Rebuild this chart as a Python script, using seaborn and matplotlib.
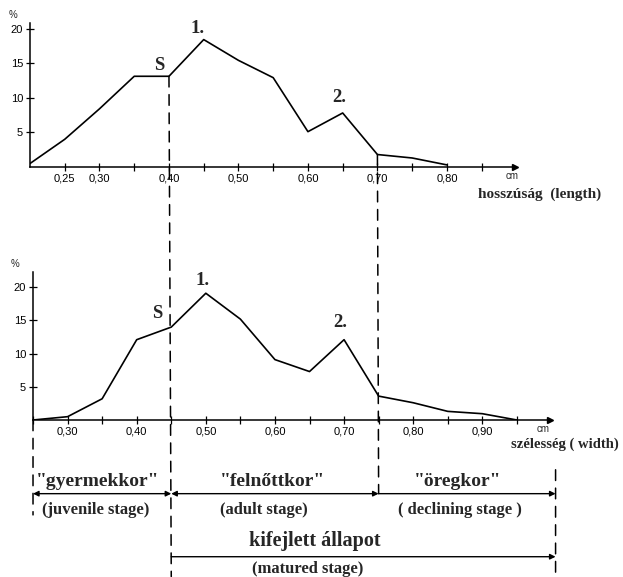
import numpy as np
import pandas as pd
import matplotlib
matplotlib.use("Agg")
import matplotlib.pyplot as plt
from matplotlib.patches import ConnectionPatch
import seaborn as sns

# ---- data ----
length_cm = [0.20, 0.25, 0.30, 0.35, 0.40, 0.45, 0.50, 0.55, 0.60, 0.65, 0.70, 0.75, 0.80]
length_pct = [0.5, 4.0, 8.4, 13.1, 13.1, 18.4, 15.4, 12.9, 5.1, 7.8, 1.8, 1.3, 0.3]
width_cm = [0.25, 0.30, 0.35, 0.40, 0.45, 0.50, 0.55, 0.60, 0.65, 0.70, 0.75, 0.80, 0.85, 0.90, 0.95]
width_pct = [0.0, 0.5, 3.2, 12.1, 14.0, 19.1, 15.2, 9.1, 7.3, 12.1, 3.6, 2.6, 1.3, 0.95, 0.0]

top_ticks = [0.25, 0.30, 0.35, 0.40, 0.45, 0.50, 0.55, 0.60, 0.65, 0.70, 0.75, 0.80, 0.85]
top_labels = ["0,25", "0,30", "", "0,40", "", "0,50", "", "0,60", "", "0,70", "", "0,80", ""]
bot_ticks = [0.25, 0.30, 0.35, 0.40, 0.45, 0.50, 0.55, 0.60, 0.65, 0.70, 0.75, 0.80, 0.85, 0.90, 0.95]
bot_labels = ["", "0,30", "", "0,40", "", "0,50", "", "0,60", "", "0,70", "", "0,80", "", "0,90", ""]
y_ticks = [5, 10, 15, 20]
y_labels = ["5", "10", "15", "20"]

stage_bounds = [0.25, 0.45, 0.75, 1.006]
stage_names = ['"gyermekkor"', '"felnőttkor"', '"öregkor"']
stage_en = ['(juvenile stage)', '(adult stage)', '( declining stage )']

sns.set_theme(style="white")
plt.rcParams['font.family'] = ['Liberation Sans', 'DejaVu Sans']

fig = plt.figure(figsize=(6.23, 5.77), dpi=100)
ax1 = fig.add_axes([0.04815, 0.7106, 0.7785, 0.2496])
ax2 = fig.add_axes([0.0530, 0.2721, 0.8299, 0.2565])

df1 = pd.DataFrame({"x": length_cm, "y": length_pct})
df2 = pd.DataFrame({"x": width_cm, "y": width_pct})
sns.lineplot(data=df1, x="x", y="y", ax=ax1, color="black", lw=1.2, sort=False, estimator=None)
sns.lineplot(data=df2, x="x", y="y", ax=ax2, color="black", lw=1.2, sort=False, estimator=None)

serif = ['Liberation Serif', 'DejaVu Serif']

for ax, xt, xl, xlim, ylim in [(ax1, top_ticks, top_labels, (0.20, 0.898), (0, 20.8)),
                                (ax2, bot_ticks, bot_labels, (0.25, 0.998), (0, 22.3))]:
    ax.set_xlim(*xlim)
    ax.set_ylim(*ylim)
    ax.set_xticks(xt)
    ax.set_xticklabels(xl)
    ax.set_yticks(y_ticks)
    ax.set_yticklabels(y_labels)
    ax.set_xlabel("")
    ax.set_ylabel("")
    for s in ["top", "right"]:
        ax.spines[s].set_visible(False)
    for s in ["left", "bottom"]:
        ax.spines[s].set_color("black")
        ax.spines[s].set_linewidth(1.1)
    ax.tick_params(axis="x", direction="inout", length=6, width=0.9, pad=2,
                   labelsize=8, colors="black", bottom=True)
    ax.tick_params(axis="y", direction="inout", length=6, width=0.9, pad=2,
                   labelsize=8, colors="black", left=True)
    ax.patch.set_alpha(0)
    ax.plot([1], [0], marker=">", color="black", markersize=4,
            transform=ax.transAxes, clip_on=False)
    ax.text(-0.035, 1.02, "%", transform=ax.transAxes, fontsize=7, ha="center", va="bottom")

# axis units / titles
ax1.text(0.884, -0.065, "cm", transform=ax1.get_xaxis_transform(), fontsize=7, ha="left", va="center")
ax1.text(0.933, -3.9, "hosszúság  (length)", fontsize=11, fontweight="bold",
         family=serif, ha="center", va="center", clip_on=False)
ax2.text(0.978, -0.06, "cm", transform=ax2.get_xaxis_transform(), fontsize=7, ha="left", va="center")
ax2.text(1.097, -3.7, "szélesség ( width)", fontsize=10.5, fontweight="bold",
         family=serif, ha="right", va="center", clip_on=False)

# peak annotations
for ax, pos in [(ax1, [("S", 0.386, 14.7), ("1.", 0.441, 20.0), ("2.", 0.645, 10.1)]),
                (ax2, [("S", 0.430, 16.1), ("1.", 0.495, 21.0), ("2.", 0.694, 14.7)])]:
    for t, x, y in pos:
        ax.text(x, y, t, fontsize=13.5, fontweight="bold", family=serif,
                ha="center", va="center", clip_on=False)

# dashed guide lines
dash = dict(color="black", lw=1.1, linestyle=(0, (7, 5)))
for (xa, ya, axa), (xb, yb, axb) in [((0.40, 13.1, ax1), (0.45, -23.6, ax2)),
                                     ((0.70, 1.8, ax1), (0.75, -11.1, ax2)),
                                     ((0.25, 0.0, ax2), (0.25, -14.3, ax2)),
                                     ((1.006, -7.5, ax2), (1.006, -23.8, ax2))]:
    cp = ConnectionPatch(xyA=(xa, ya), coordsA=axa.transData,
                         xyB=(xb, yb), coordsB=axb.transData, **dash)
    fig.add_artist(cp)

# stage arrows and labels
arrow_y = -11.1
centers = [0.343, 0.597, 0.864]
en_centers = [0.341, 0.584, 0.867]
styles = ['<|-|>', '<|-|>', '<|-']
for i in range(3):
    ax2.annotate("", xy=(stage_bounds[i], arrow_y), xytext=(stage_bounds[i + 1], arrow_y),
                 xycoords="data", textcoords="data", annotation_clip=False,
                 arrowprops=dict(arrowstyle=styles[i], color="black", lw=1.0,
                                 mutation_scale=8, shrinkA=0, shrinkB=0))
    ax2.text(centers[i], -9.2, stage_names[i], fontsize=14, fontweight="bold",
             family=serif, ha="center", va="center", clip_on=False)
    ax2.text(en_centers[i], -13.5, stage_en[i], fontsize=12, fontweight="bold",
             family=serif, ha="center", va="center", clip_on=False)

ax2.annotate("", xy=(0.45, -20.6), xytext=(1.006, -20.6), annotation_clip=False,
             arrowprops=dict(arrowstyle='<|-', color="black", lw=1.0,
                             mutation_scale=8, shrinkA=0, shrinkB=0))
ax2.text(0.657, -18.2, "kifejlett állapot", fontsize=14.5, fontweight="bold",
         family=serif, ha="center", va="center", clip_on=False)
ax2.text(0.648, -22.5, "(matured stage)", fontsize=12, fontweight="bold",
         family=serif, ha="center", va="center", clip_on=False)

fig.savefig("out.png", dpi=100, facecolor="white")
